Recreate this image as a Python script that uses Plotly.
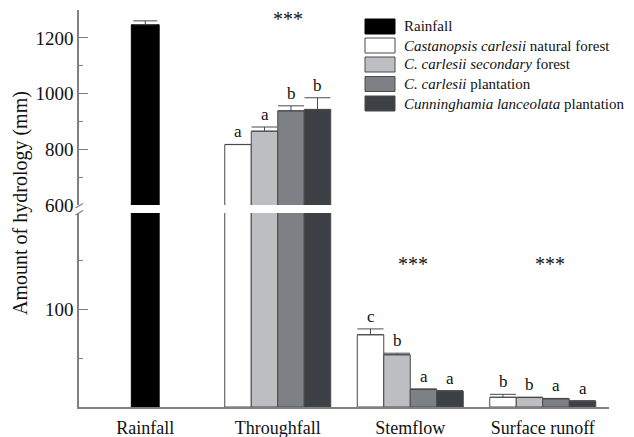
import plotly.graph_objects as go

# ---- data ----
categories = ["Rainfall", "Throughfall", "Stemflow", "Surface runoff"]

rainfall_value = [1247]
rainfall_err = [14]

forest_names = [
    "<i>Castanopsis carlesii</i> natural forest",
    "<i>C. carlesii secondary</i> forest",
    "<i>C. carlesii</i> plantation",
    "<i>Cunninghamia lanceolata</i> plantation",
]
# values for Throughfall, Stemflow, Surface runoff
natural_forest = [817, 74.1, 10.0]
secondary_forest = [865, 53.6, 9.7]
cc_plantation = [938, 18.1, 8.4]
cl_plantation = [943, 16.4, 6.0]

natural_err = [0.5, 6.0, 3.0]
secondary_err = [15, 1.6, 0.4]
cc_err = [18, 0.4, 0.4]
cl_err = [42, 0.3, 0.4]

letters_natural = ["a", "c", "b"]
letters_secondary = ["a", "b", "b"]
letters_cc = ["b", "a", "a"]
letters_cl = ["b", "a", "a"]

signif_labels = ["***", "***", "***"]
signif_levels = [1266, 147, 147]

# ---- styling ----
FONT = "Liberation Serif"
TXT = "#111111"
AX = "#808080"
EDGE = "#4a4a4a"
colors = ["#ffffff", "#bdbec2", "#7d8084", "#3d4145"]
RAIN_COLOR = "#000000"

W, H = 634, 437
ML, MR, MT, MB = 79, 25, 10, 30
PW, PH = W - ML - MR, H - MT - MB


def px_x(px):
    return (px - ML) / PW


def px_y(py):
    return (H - MB - py) / PH


lower_dom = [0, px_y(213)]
upper_dom = [px_y(205), 1]

forest_vals = [natural_forest, secondary_forest, cc_plantation, cl_plantation]
forest_errs = [natural_err, secondary_err, cc_err, cl_err]
forest_letters = [letters_natural, letters_secondary, letters_cc, letters_cl]
group_x = [1, 2, 3]
bar_w = 0.2

fig = go.Figure()

for yax in ["y", "y2"]:
    fig.add_trace(go.Bar(
        x=[0], y=rainfall_value, width=[0.21], offset=-0.105,
        marker=dict(color=RAIN_COLOR, line=dict(color=RAIN_COLOR, width=1)),
        error_y=dict(type="data", array=rainfall_err, arrayminus=[0],
                     symmetric=False, color=EDGE, thickness=1, width=12),
        yaxis=yax, showlegend=False, name="Rainfall",
    ))
    for i, (vals, errs) in enumerate(zip(forest_vals, forest_errs)):
        fig.add_trace(go.Bar(
            x=group_x, y=vals, width=bar_w, offset=-0.4 + bar_w * i,
            marker=dict(color=colors[i], line=dict(color=EDGE, width=1)),
            error_y=dict(type="data", array=errs, arrayminus=[0] * len(errs),
                         symmetric=False, color=EDGE, thickness=1, width=13),
            yaxis=yax, showlegend=False, name=forest_names[i],
        ))

annotations = []
# letters of multiple comparison above each bar
for i, (vals, errs, lets) in enumerate(zip(forest_vals, forest_errs, forest_letters)):
    for j, gx in enumerate(group_x):
        top = vals[j] + errs[j]
        annotations.append(dict(
            x=gx - 0.4 + bar_w * (i + 0.5), y=top, xref="x",
            yref="y2" if top > 200 else "y",
            text=lets[j], showarrow=False, yanchor="bottom", yshift=1,
            font=dict(family=FONT, size=17, color=TXT),
        ))
# significance stars
star_shift = [10, 3, 7]
for gx, lab, lv, sh in zip(group_x, signif_labels, signif_levels, star_shift):
    annotations.append(dict(
        x=gx, y=lv, xref="x", yref="y2" if lv > 200 else "y", xshift=sh,
        text=lab, showarrow=False, yanchor="middle",
        font=dict(family=FONT, size=20, color=TXT),
    ))
# axis title
annotations.append(dict(
    x=px_x(20), y=px_y(203), xref="paper", yref="paper",
    xanchor="center", yanchor="middle",
    text="Amount of hydrology (mm)", textangle=-90, showarrow=False,
    font=dict(family=FONT, size=20, color=TXT),
))

# legend drawn as boxes + labels
shapes = []
legend_names = ["Rainfall"] + forest_names
legend_colors = [RAIN_COLOR] + colors
row_centers = [26.5, 45.5, 64.5, 84, 103.5]
for name, col, cy in zip(legend_names, legend_colors, row_centers):
    shapes.append(dict(
        type="rect", xref="paper", yref="paper",
        x0=px_x(365), x1=px_x(395), y0=px_y(cy + 7.5), y1=px_y(cy - 7.5),
        fillcolor=col, line=dict(color=EDGE if col != RAIN_COLOR else RAIN_COLOR, width=1),
    ))
    annotations.append(dict(
        x=px_x(402), y=px_y(cy), xref="paper", yref="paper",
        text=name, showarrow=False, xanchor="left", yanchor="middle",
        font=dict(family=FONT, size=15, color=TXT),
    ))

# axis break marks
for y0, y1 in [(208, 203.5), (215, 210.5)]:
    shapes.append(dict(
        type="line", xref="paper", yref="paper",
        x0=px_x(75.5), x1=px_x(83), y0=px_y(y0), y1=px_y(y1),
        line=dict(color=AX, width=1.2),
    ))

xtickfont = dict(family=FONT, size=18, color=TXT)
ytickfont = dict(family=FONT, size=19, color=TXT)

fig.update_layout(
    width=W, height=H,
    margin=dict(l=ML, r=MR, t=MT, b=MB),
    paper_bgcolor="white", plot_bgcolor="white",
    font=dict(family=FONT, size=17, color=TXT),
    barmode="overlay",
    showlegend=False,
    xaxis=dict(
        range=[-0.5, 3.5], tickmode="array", tickvals=[0, 1, 2, 3],
        ticktext=categories, showline=True, linecolor=AX, linewidth=1.5,
        ticks="", showgrid=False, zeroline=False, tickfont=xtickfont,
        ticklabelstandoff=4, anchor="y", automargin=False,
    ),
    yaxis=dict(
        domain=lower_dom, range=[0, 199], tickmode="array", tickvals=[100],
        ticks="inside", ticklen=9, tickwidth=1.2, tickcolor=AX,
        minor=dict(tickmode="array", tickvals=[50, 150], ticks="inside",
                   ticklen=4, tickwidth=1.2, tickcolor=AX),
        showline=True, linecolor=AX, linewidth=1.5, showgrid=False,
        zeroline=False, tickfont=ytickfont, anchor="x", automargin=False,
    ),
    yaxis2=dict(
        domain=upper_dom, range=[600, 1300], tickmode="array",
        tickvals=[600, 800, 1000, 1200],
        ticks="inside", ticklen=9, tickwidth=1.2, tickcolor=AX,
        minor=dict(tickmode="array", tickvals=[700, 900, 1100], ticks="inside",
                   ticklen=4, tickwidth=1.2, tickcolor=AX),
        showline=True, linecolor=AX, linewidth=1.5, showgrid=False,
        zeroline=False, tickfont=ytickfont, anchor="x", automargin=False,
    ),
    annotations=annotations,
    shapes=shapes,
)

fig.write_html("out.html")
